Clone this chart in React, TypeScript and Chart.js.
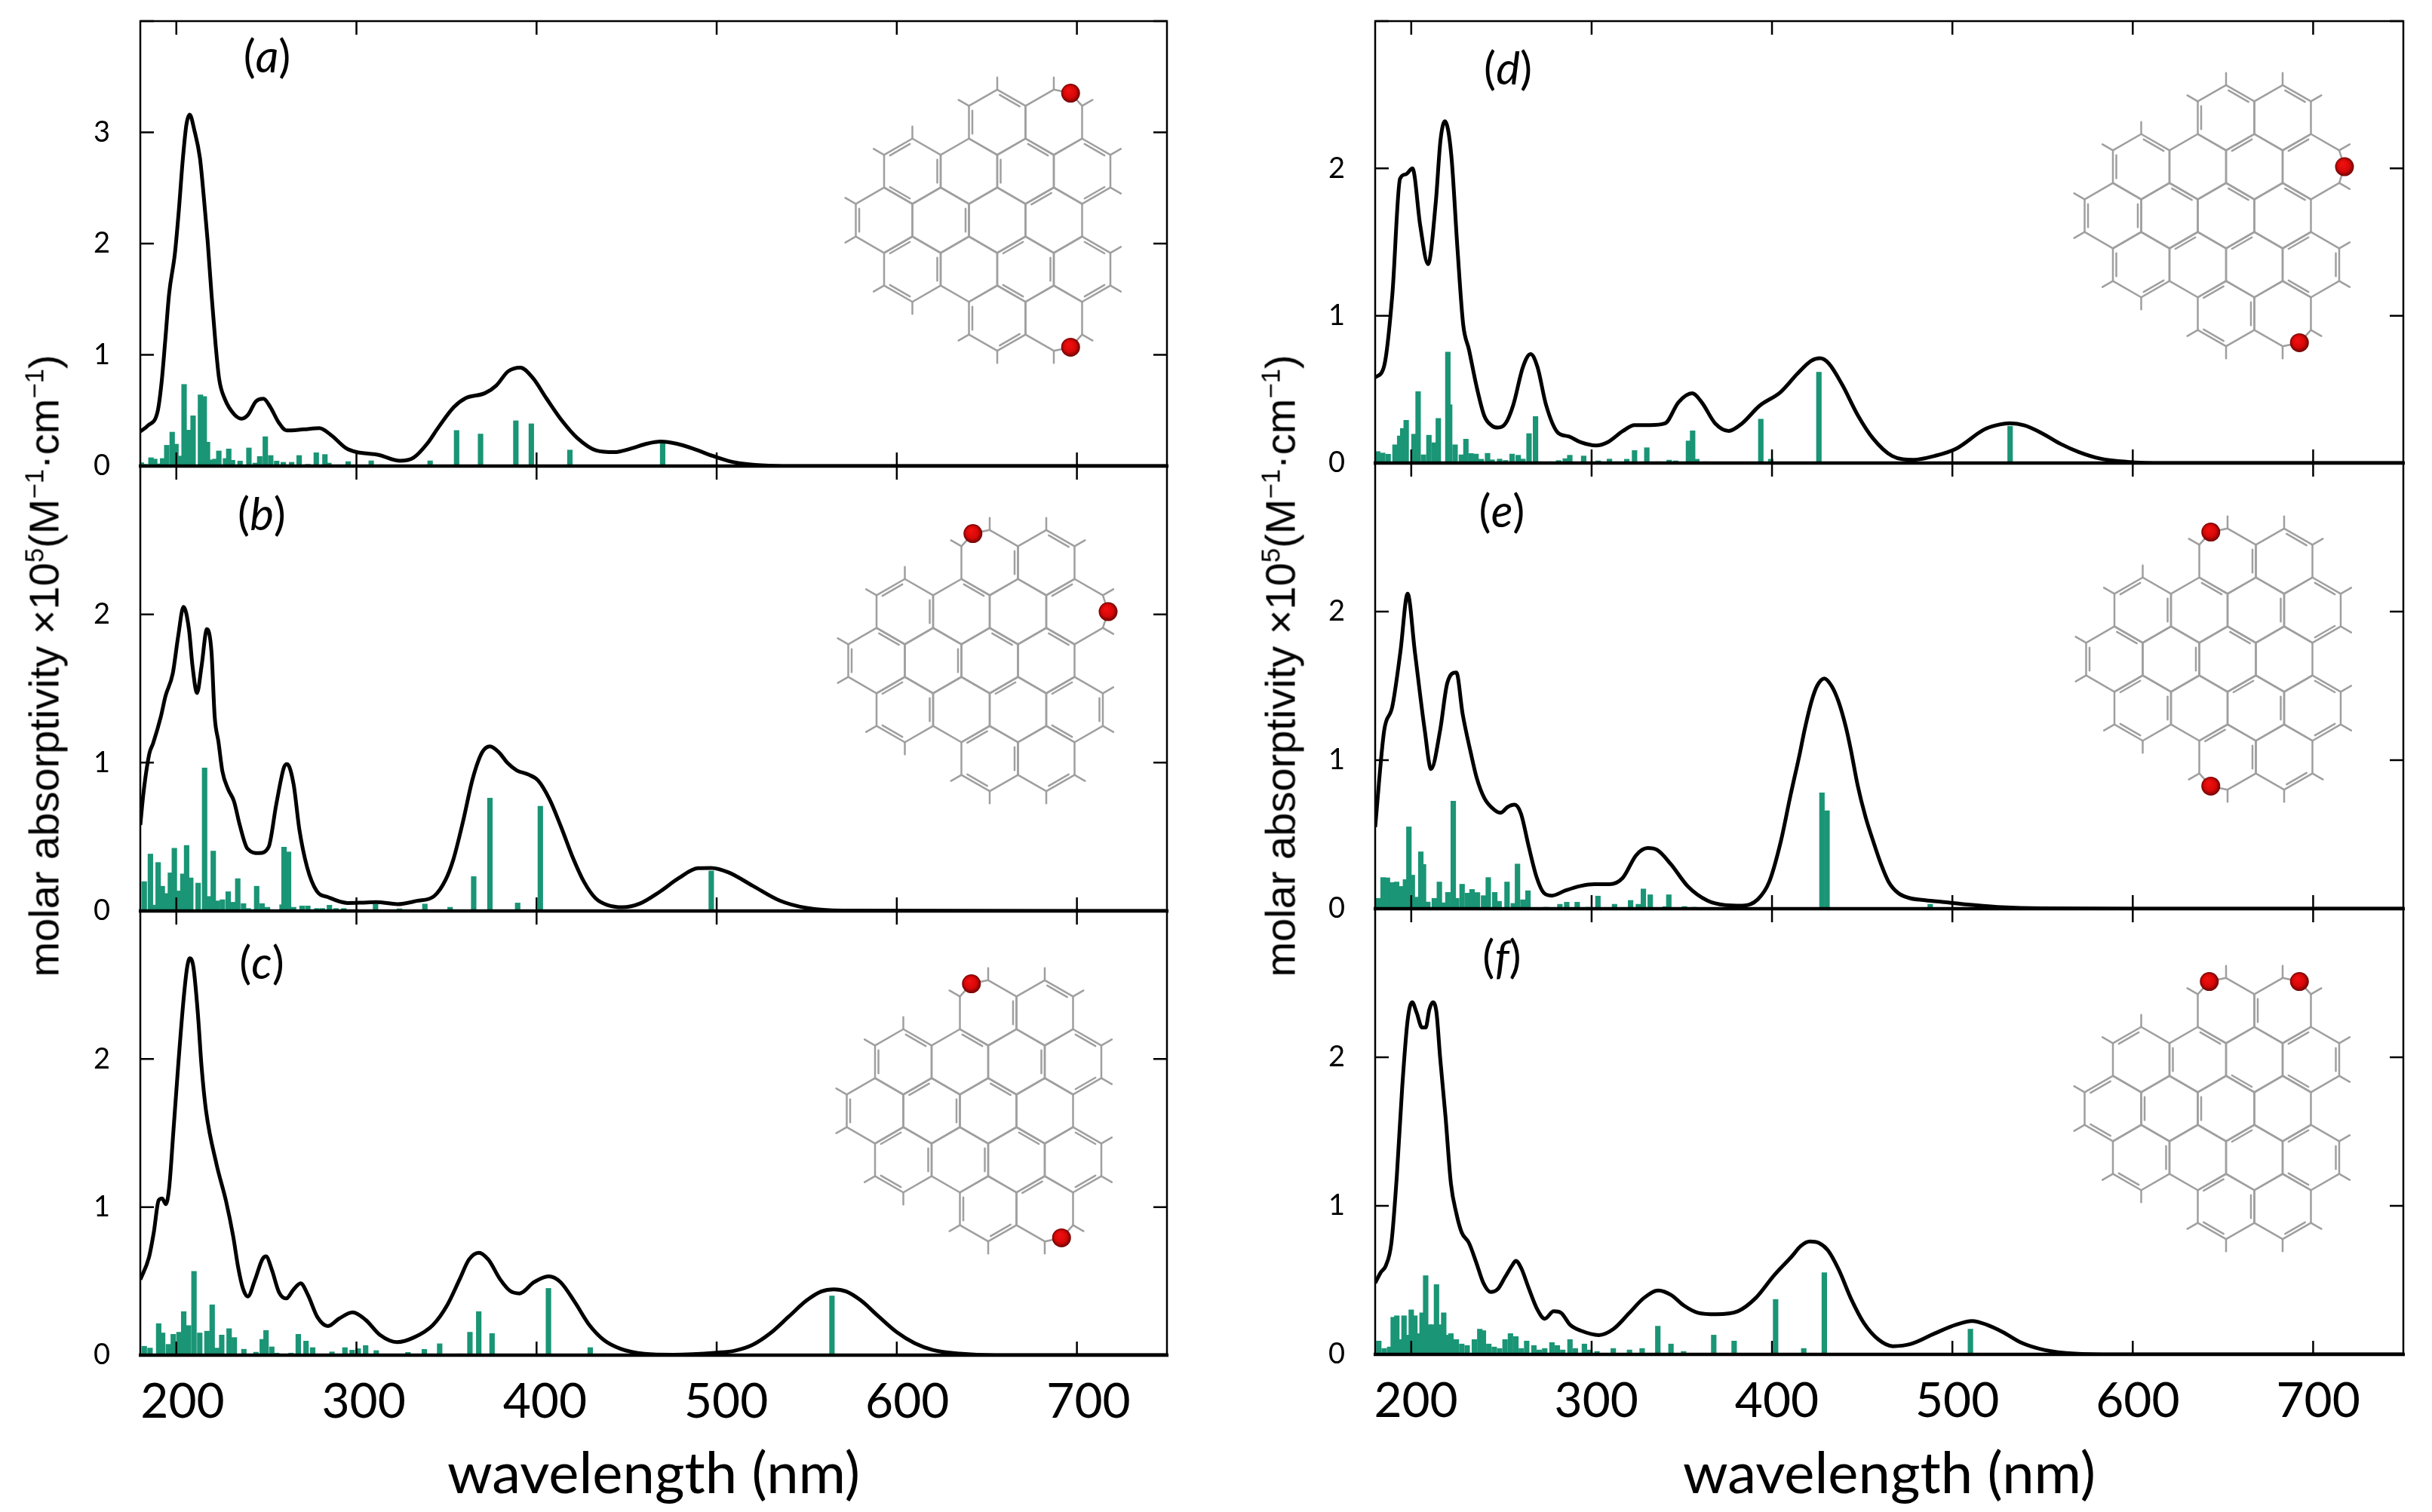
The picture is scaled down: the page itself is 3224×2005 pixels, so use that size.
import { useEffect, useRef } from "react";
import { Chart, registerables } from "chart.js";

Chart.register(...registerables);

const tickWavelengths = [200, 300, 400, 500, 600, 700];

// panel (a)
const curveAX = [180, 184.3, 189.6, 191.8, 193.9, 196, 199.2, 201.4, 203.5, 205.6, 207.4, 210, 213.1, 215.3, 217.4, 219.5, 221.7, 223.8, 227, 232.4, 236.2, 239.8, 244.1, 248.4, 252.2, 256.9, 261.2, 270.8, 279.4, 285.8, 294.3, 299.7, 312.3, 324.2, 331.7, 339.2, 345.6, 354.1, 360.6, 371.3, 377.7, 384.1, 391, 398, 405.4, 414, 422.5, 433.2, 443, 453, 461, 469, 478, 488, 498, 508, 518, 533, 553, 750];
const curveAY = [0.31, 0.365, 0.49, 0.75, 1.14, 1.55, 1.91, 2.3, 2.74, 3.07, 3.16, 3.02, 2.77, 2.41, 2.02, 1.55, 1.11, 0.78, 0.6, 0.46, 0.426, 0.46, 0.58, 0.605, 0.53, 0.39, 0.32, 0.33, 0.34, 0.28, 0.16, 0.127, 0.1, 0.047, 0.075, 0.2, 0.35, 0.53, 0.61, 0.655, 0.725, 0.85, 0.885, 0.79, 0.61, 0.41, 0.254, 0.14, 0.125, 0.16, 0.2, 0.22, 0.2, 0.15, 0.09, 0.04, 0.015, 0.002, 0, 0];
const barAX = [180.6, 182.5, 185.9, 188, 189.8, 192.4, 194.7, 197.7, 199.8, 201.9, 204.3, 206.8, 209.3, 213.4, 215.5, 217.3, 219.1, 221.5, 223.6, 227.3, 229.1, 231.2, 235.4, 240.3, 243.8, 246.3, 249.4, 252.4, 255.7, 259.4, 264, 268.2, 273, 277.7, 282.5, 284.7, 288.5, 295.4, 308.2, 313.5, 340.9, 355.6, 368.9, 388.5, 397.1, 418.5, 470];
const barAY = [0.03, 0.016, 0.075, 0.063, 0.02, 0.068, 0.187, 0.305, 0.197, 0.09, 0.734, 0.323, 0.452, 0.64, 0.625, 0.215, 0.056, 0.063, 0.136, 0.068, 0.154, 0.052, 0.045, 0.163, 0.027, 0.086, 0.264, 0.095, 0.045, 0.034, 0.034, 0.095, 0.016, 0.12, 0.104, 0.027, 0.011, 0.04, 0.047, 0.012, 0.047, 0.32, 0.288, 0.407, 0.38, 0.144, 0.22];

// panel (b)
const curveBX = [180, 181.8, 185, 187.1, 191.4, 194, 198, 201, 204, 207, 209, 211.5, 214, 217, 219.5, 221.3, 223.4, 225.6, 228.8, 232, 235.2, 239.5, 245.9, 251.2, 255.5, 259.8, 261.5, 265.1, 268.3, 272.6, 277.9, 284.3, 295, 302.5, 311, 322.8, 333.5, 343.1, 349.5, 353.8, 359.1, 364.5, 369.8, 374.1, 379.4, 383.7, 389, 395.4, 400.8, 407.2, 413.6, 420, 426.4, 432.8, 439.3, 447.8, 457.4, 468.1, 478.8, 489.5, 497, 506.6, 520, 535, 550, 570, 750];
const curveBY = [0.58, 0.8, 1.06, 1.13, 1.31, 1.45, 1.6, 1.85, 2.05, 1.9, 1.65, 1.47, 1.65, 1.9, 1.75, 1.31, 1.14, 0.94, 0.82, 0.74, 0.58, 0.42, 0.39, 0.43, 0.72, 0.97, 0.99, 0.855, 0.55, 0.296, 0.135, 0.093, 0.054, 0.056, 0.06, 0.046, 0.068, 0.1, 0.21, 0.347, 0.6, 0.89, 1.07, 1.11, 1.066, 1, 0.948, 0.92, 0.88, 0.753, 0.567, 0.364, 0.195, 0.085, 0.04, 0.025, 0.05, 0.127, 0.22, 0.288, 0.29, 0.26, 0.17, 0.07, 0.02, 0.002, 0];
const barBX = [182.2, 185.6, 187.5, 189.9, 192.2, 194.2, 196.7, 198.9, 201, 203.6, 205.7, 208, 212.1, 215.7, 218.1, 220.5, 222.8, 225.6, 228.8, 231.6, 234.1, 237.3, 239.9, 244.6, 247.6, 250.6, 258.7, 259.8, 262.3, 265.1, 269.8, 273, 278, 281.1, 285, 288.6, 293, 310.6, 323.9, 338, 352, 365.1, 374.1, 389.5, 402.1, 497];
const barBY = [0.198, 0.384, 0.04, 0.327, 0.167, 0.118, 0.257, 0.423, 0.135, 0.25, 0.442, 0.223, 0.188, 0.964, 0.098, 0.404, 0.068, 0.076, 0.13, 0.059, 0.218, 0.05, 0.017, 0.167, 0.05, 0.025, 0.042, 0.43, 0.398, 0.025, 0.034, 0.034, 0.017, 0.017, 0.039, 0.017, 0.017, 0.046, 0.015, 0.047, 0.025, 0.232, 0.761, 0.054, 0.706, 0.27];

// panel (c)
const curveCX = [180, 184.8, 187.5, 190.2, 192.1, 194.2, 196.1, 198.3, 201, 204, 206, 207.5, 209.5, 212, 214, 216.5, 222.3, 227.6, 231.6, 234.3, 237, 239.7, 243.7, 247.7, 249.8, 253, 257, 261, 265, 269, 273, 278.4, 284.2, 290.4, 297.9, 305.1, 313.1, 322.5, 331.8, 342.5, 350.5, 357.2, 362.5, 367.9, 373.2, 379.9, 385.3, 390.6, 398.6, 406.7, 413.3, 421.3, 429.3, 437.4, 446.7, 460, 476, 500, 510, 520, 530, 540, 550, 558, 565, 572, 580, 590, 600, 610, 620, 635, 655, 750];
const curveCY = [0.51, 0.66, 0.83, 1.046, 1.058, 1.02, 1.14, 1.5, 1.95, 2.4, 2.62, 2.68, 2.62, 2.3, 1.95, 1.65, 1.29, 1.04, 0.8, 0.595, 0.45, 0.396, 0.51, 0.646, 0.667, 0.578, 0.425, 0.383, 0.442, 0.485, 0.408, 0.255, 0.196, 0.247, 0.289, 0.238, 0.136, 0.088, 0.119, 0.204, 0.34, 0.51, 0.646, 0.692, 0.646, 0.51, 0.434, 0.417, 0.493, 0.532, 0.493, 0.357, 0.204, 0.102, 0.043, 0.009, 0.003, 0.017, 0.03, 0.07, 0.15, 0.26, 0.37, 0.43, 0.445, 0.43, 0.37, 0.26, 0.155, 0.08, 0.035, 0.01, 0, 0];
const barCX = [182.2, 185.4, 190.2, 192.4, 195.6, 198.3, 201.5, 204.1, 206.8, 209.8, 213, 217, 219.9, 222.5, 225.2, 229.3, 232.2, 237.5, 244.2, 247.7, 249.8, 253, 255.7, 263.7, 267.7, 272, 275.7, 286.4, 293.6, 297.6, 301, 305.1, 311, 328.6, 337.7, 346.2, 357.3, 363, 367.9, 375.3, 406.6, 429.8, 564];
const barCY = [0.06, 0.048, 0.213, 0.15, 0.073, 0.141, 0.155, 0.294, 0.2, 0.566, 0.15, 0.162, 0.34, 0.048, 0.136, 0.179, 0.119, 0.04, 0.02, 0.107, 0.167, 0.056, 0.014, 0.014, 0.141, 0.095, 0.051, 0.022, 0.051, 0.034, 0.044, 0.065, 0.031, 0.019, 0.039, 0.077, 0.009, 0.155, 0.294, 0.146, 0.451, 0.051, 0.4];

// panel (d)
const curveDX = [180, 185, 189.5, 193.8, 197, 200.7, 205, 209.3, 213.6, 216.2, 218.7, 222.2, 225.6, 228.8, 232, 236.3, 240.5, 244.8, 248, 252.3, 256.6, 261.9, 266.2, 270, 274.7, 281.1, 287.5, 293.9, 302.4, 308.8, 317.4, 323.8, 332.3, 340.7, 348.2, 355.7, 361, 368.5, 376, 383.4, 393, 404.7, 414.3, 421.8, 426.5, 431.4, 438.9, 447.4, 456, 466.6, 478.4, 490.1, 502.3, 517.4, 524, 532, 540, 550, 560, 570, 582, 597, 617, 750];
const curveDY = [0.58, 0.66, 1.14, 1.93, 1.96, 2, 1.61, 1.35, 1.77, 2.19, 2.32, 2.09, 1.46, 0.94, 0.77, 0.515, 0.32, 0.252, 0.24, 0.269, 0.396, 0.651, 0.74, 0.651, 0.396, 0.209, 0.18, 0.141, 0.119, 0.141, 0.218, 0.257, 0.257, 0.269, 0.413, 0.473, 0.413, 0.269, 0.218, 0.269, 0.388, 0.481, 0.609, 0.694, 0.711, 0.677, 0.532, 0.328, 0.167, 0.048, 0.022, 0.048, 0.099, 0.226, 0.255, 0.27, 0.255, 0.2, 0.13, 0.075, 0.03, 0.008, 0, 0];
const barDX = [181.4, 184.2, 187.2, 191, 193.6, 195.3, 197.2, 201.5, 203.8, 206.8, 209.8, 212.8, 215, 220.3, 221.3, 224.3, 227.8, 230.3, 233.1, 235.9, 238.8, 242.3, 244.8, 249, 252.3, 255.9, 259.3, 261.9, 265.3, 268.9, 271.3, 276.8, 281.7, 285.4, 287.9, 295.6, 303.7, 309.9, 314.2, 319.5, 323.8, 330.6, 337, 343, 346.6, 353.7, 356, 358.3, 363.3, 393.8, 399.3, 426, 512, 532];
const barDY = [0.078, 0.068, 0.06, 0.124, 0.184, 0.235, 0.29, 0.196, 0.485, 0.056, 0.189, 0.138, 0.303, 0.753, 0.396, 0.124, 0.056, 0.162, 0.065, 0.061, 0.026, 0.066, 0.022, 0.027, 0.018, 0.061, 0.053, 0.027, 0.2, 0.316, 0.009, 0.009, 0.017, 0.03, 0.053, 0.048, 0.015, 0.027, 0.009, 0.026, 0.085, 0.104, 0.009, 0.02, 0.015, 0.15, 0.219, 0.026, 0.009, 0.298, 0.026, 0.617, 0.008, 0.25];

// panel (e)
const curveEX = [180, 185, 189.5, 194, 198, 202, 207.5, 211, 216, 220, 225, 228.5, 233, 236.3, 240.6, 245.9, 249.5, 253.4, 257.2, 260.8, 265.1, 269.4, 273.6, 277.9, 285.4, 293.9, 301.4, 309.9, 317.2, 324.7, 331.1, 336.4, 343.9, 353.5, 364.2, 374, 383.5, 392.1, 398.5, 404.9, 410.2, 415.5, 418, 422, 425, 429, 433, 437, 441, 443.7, 447.5, 451.8, 456.1, 460.4, 464.6, 470, 476.4, 483.8, 494.5, 507.3, 525, 550, 600, 750];
const curveEY = [0.55, 1.2, 1.36, 1.73, 2.12, 1.73, 1.2, 0.94, 1.2, 1.52, 1.59, 1.31, 1.05, 0.88, 0.743, 0.667, 0.646, 0.684, 0.7, 0.641, 0.42, 0.216, 0.105, 0.088, 0.122, 0.153, 0.165, 0.165, 0.207, 0.36, 0.408, 0.395, 0.3, 0.148, 0.054, 0.024, 0.02, 0.063, 0.182, 0.454, 0.76, 1.05, 1.2, 1.4, 1.5, 1.55, 1.5, 1.39, 1.22, 1.07, 0.83, 0.62, 0.454, 0.301, 0.182, 0.105, 0.071, 0.058, 0.046, 0.029, 0.012, 0.002, 0, 0];
const barEX = [181.9, 184.4, 186.8, 189.3, 191.9, 194.7, 196.8, 198.7, 200.6, 202.8, 205.3, 206.8, 209.2, 212.8, 215.6, 218, 220.3, 223.3, 225.2, 228.2, 231.2, 233.7, 236.7, 240.1, 242.7, 246.3, 248.7, 253.1, 256.6, 258.9, 261.9, 264.7, 274.7, 282.4, 286.2, 292, 298.2, 303.5, 312.7, 321.6, 325.9, 328.7, 332.5, 340.8, 342.8, 351.5, 356.9, 427.7, 430.5, 487.7];
const barEY = [0.07, 0.21, 0.208, 0.176, 0.18, 0.15, 0.196, 0.551, 0.226, 0.078, 0.383, 0.298, 0.045, 0.07, 0.18, 0.04, 0.11, 0.724, 0.07, 0.165, 0.105, 0.13, 0.109, 0.088, 0.21, 0.11, 0.05, 0.18, 0.036, 0.301, 0.06, 0.121, 0.01, 0.03, 0.044, 0.044, 0.01, 0.085, 0.03, 0.056, 0.03, 0.133, 0.094, 0.014, 0.094, 0.015, 0.01, 0.78, 0.66, 0.03];

// panel (f)
const curveFX = [180, 183, 186, 189, 192, 195, 198, 200.5, 203, 206, 208, 210, 212, 214, 216, 219, 222, 225, 228, 232, 236, 240, 244, 248, 252, 256, 258, 261, 265, 270, 274, 279, 283, 288, 294, 304, 312, 321, 329, 337, 344, 351, 359, 369, 381, 391, 401, 411, 416, 421, 426, 431, 437, 444, 451, 459, 467, 477, 490, 502, 511, 519, 528, 538, 551, 568, 590, 750];
const curveFY = [0.48, 0.55, 0.6, 0.75, 1.2, 1.8, 2.25, 2.37, 2.3, 2.2, 2.2, 2.32, 2.37, 2.3, 2, 1.6, 1.15, 0.95, 0.82, 0.75, 0.62, 0.48, 0.42, 0.44, 0.52, 0.6, 0.63, 0.58, 0.45, 0.3, 0.24, 0.29, 0.28, 0.2, 0.16, 0.13, 0.17, 0.28, 0.38, 0.43, 0.4, 0.33, 0.28, 0.27, 0.29, 0.38, 0.53, 0.66, 0.73, 0.76, 0.75, 0.7, 0.57, 0.37, 0.21, 0.1, 0.055, 0.07, 0.14, 0.2, 0.225, 0.2, 0.15, 0.08, 0.03, 0.005, 0, 0];
const barFX = [182, 185, 188, 190, 192, 194, 196, 198, 200, 202, 204, 206, 208, 210, 212, 214, 216, 218, 220, 222, 225, 228, 231, 235, 238, 240, 243, 246, 249, 252, 255, 258, 261, 264, 268, 271, 274, 278, 281, 284, 288, 291, 296, 299, 303, 312, 321, 328, 336.7, 344, 351, 367.7, 379, 402, 417.6, 429, 510];
const barFY = [0.09, 0.04, 0.05, 0.25, 0.26, 0.1, 0.26, 0.13, 0.3, 0.26, 0.14, 0.28, 0.53, 0.2, 0.2, 0.47, 0.2, 0.28, 0.13, 0.14, 0.1, 0.07, 0.06, 0.1, 0.17, 0.16, 0.07, 0.05, 0.04, 0.1, 0.14, 0.12, 0.04, 0.09, 0.06, 0.03, 0.04, 0.08, 0.06, 0.03, 0.1, 0.04, 0.07, 0.03, 0.02, 0.04, 0.03, 0.04, 0.19, 0.07, 0.02, 0.13, 0.09, 0.37, 0.04, 0.55, 0.17];

// hexagons of the flake: [column in half widths, row]
const rings = [
  [0, -2], [2, -2],
  [-3, -1], [-1, -1], [1, -1], [3, -1],
  [-4, 0], [-2, 0], [0, 0], [2, 0],
  [-3, 1], [-1, 1], [1, 1], [3, 1],
  [0, 2], [2, 2],
];

// double bonds: [column, row, edge], edge 0 = top right, going clockwise
const bondsA = [[0, -2, 0], [0, -2, 4], [-3, -1, 5], [-3, -1, 1], [-3, -1, 3], [1, -1, 4], [1, -1, 0], [2, 0, 5], [3, -1, 0], [3, -1, 2], [-4, 0, 4], [-3, 1, 5], [-2, 0, 1], [-3, 1, 1], [-3, 1, 3], [1, 1, 5], [1, 1, 1], [1, 1, 3], [3, 1, 0], [3, 1, 2], [0, 2, 4], [0, 2, 2]];
const bondsB = [[0, -2, 1], [2, -2, 0], [3, -1, 5], [-3, -1, 5], [-3, -1, 1], [-1, -1, 0], [-4, 0, 0], [-4, 0, 4], [-3, 1, 5], [-3, 1, 1], [-3, 1, 3], [-2, 0, 1], [0, 0, 0], [2, 0, 0], [1, 1, 5], [3, 1, 5], [3, 1, 1], [3, 1, 3], [0, 2, 5], [0, 2, 1], [0, 2, 3], [2, 2, 2]];
const bondsC = [[2, -2, 0], [0, -2, 1], [-1, -1, 0], [-3, -1, 0], [-3, -1, 4], [1, -1, 1], [3, -1, 0], [3, -1, 2], [-2, 0, 5], [-2, 0, 1], [0, 0, 0], [-4, 0, 4], [-3, 1, 5], [-3, 1, 1], [-3, 1, 3], [-1, 1, 1], [1, 1, 0], [3, 1, 0], [3, 1, 2], [2, 2, 5], [0, 2, 4], [0, 2, 2]];
const bondsD = [[0, -2, 4], [0, -2, 0], [2, -2, 0], [-3, -1, 0], [-3, -1, 4], [1, -1, 5], [3, -1, 5], [-2, 0, 0], [0, 0, 0], [2, 0, 0], [-4, 0, 4], [-4, 0, 1], [-1, 1, 5], [1, 1, 5], [3, 1, 5], [3, 1, 1], [3, 1, 3], [-3, 1, 4], [-3, 1, 2], [0, 2, 5], [0, 2, 1], [0, 2, 3]];
const bondsE = [[2, -2, 0], [0, -2, 1], [-1, -1, 0], [-3, -1, 5], [-3, -1, 1], [-4, 0, 0], [-4, 0, 4], [-3, 1, 5], [1, -1, 1], [3, -1, 0], [3, -1, 2], [0, 0, 0], [-2, 0, 1], [-3, 1, 1], [-3, 1, 3], [1, 1, 5], [1, 1, 1], [3, 1, 0], [3, 1, 2], [0, 2, 5], [0, 2, 1], [2, 2, 2]];
const bondsF = [[2, -2, 4], [-1, -1, 0], [-3, -1, 5], [-1, -1, 4], [3, -1, 5], [3, -1, 1], [3, -1, 3], [-4, 0, 5], [-4, 0, 3], [-2, 0, 4], [0, 0, 4], [1, -1, 3], [-3, 1, 1], [-3, 1, 3], [1, 1, 5], [3, 1, 5], [3, 1, 1], [3, 1, 3], [0, 2, 5], [0, 2, 1], [0, 2, 3], [2, 2, 2]];

// opened edges carrying the oxygen: [column, row, edge]
const oxygensA = [[2, -2, 0], [2, 2, 2]];
const oxygensB = [[0, -2, 5], [3, -1, 1]];
const oxygensC = [[0, -2, 5], [2, 2, 2]];
const oxygensD = [[3, -1, 1], [2, 2, 2]];
const oxygensE = [[0, -2, 5], [0, 2, 3]];
const oxygensF = [[0, -2, 5], [2, -2, 0]];

const toPoints = (xs: number[], ys: number[]) => xs.map((x, i) => ({ x, y: ys[i] }));

const hexSide = 43.3;
const hexWidth = hexSide * Math.sqrt(3);

const drawMolecule = (ctx: CanvasRenderingContext2D, cx: number, cy: number, bonds: number[][], oxygens: number[][]) => {
  const center = (c: number, r: number) => [cx + (c * hexWidth) / 2, cy + r * 1.5 * hexSide];
  const vertex = (c: number, r: number, v: number) => {
    const [x, y] = center(c, r);
    const a = ((-90 + v * 60) * Math.PI) / 180;
    return [x + hexSide * Math.cos(a), y + hexSide * Math.sin(a)];
  };
  const key = (p: number[]) => `${Math.round(p[0] / 4)},${Math.round(p[1] / 4)}`;
  const isOpen = (c: number, r: number, e: number) => oxygens.some(o => o[0] === c && o[1] === r && o[2] === e);

  const useCount: Record<string, number> = {};
  rings.forEach(([c, r]) => {
    for (let v = 0; v < 6; v++) {
      const k = key(vertex(c, r, v));
      useCount[k] = (useCount[k] || 0) + 1;
    }
  });

  ctx.save();
  ctx.strokeStyle = "#9f9f9f";
  ctx.lineWidth = 2.5;
  ctx.lineCap = "round";
  const line = (a: number[], b: number[]) => {
    ctx.beginPath();
    ctx.moveTo(a[0], a[1]);
    ctx.lineTo(b[0], b[1]);
    ctx.stroke();
  };

  rings.forEach(([c, r]) => {
    const [mx, my] = center(c, r);
    for (let e = 0; e < 6; e++) {
      const a = vertex(c, r, e);
      const b = vertex(c, r, (e + 1) % 6);
      if (!isOpen(c, r, e)) line(a, b);
      // hydrogen stub on outer carbons
      if (useCount[key(a)] === 1) {
        const d = Math.hypot(a[0] - mx, a[1] - my);
        line(a, [a[0] + ((a[0] - mx) / d) * 16, a[1] + ((a[1] - my) / d) * 16]);
      }
    }
  });

  bonds.forEach(([c, r, e]) => {
    const [mx, my] = center(c, r);
    const a = vertex(c, r, e);
    const b = vertex(c, r, (e + 1) % 6);
    const inner = (p: number[], q: number[]) => {
      const sx = p[0] + (q[0] - p[0]) * 0.1;
      const sy = p[1] + (q[1] - p[1]) * 0.1;
      return [sx + (mx - sx) * 0.12, sy + (my - sy) * 0.12];
    };
    line(inner(a, b), inner(b, a));
  });

  oxygens.forEach(([c, r, e]) => {
    const [mx, my] = center(c, r);
    const a = vertex(c, r, e);
    const b = vertex(c, r, (e + 1) % 6);
    const ox = (a[0] + b[0]) / 2;
    const oy = (a[1] + b[1]) / 2;
    const d = Math.hypot(ox - mx, oy - my);
    const px = ox + ((ox - mx) / d) * 7;
    const py = oy + ((oy - my) / d) * 7;
    line(a, [px, py]);
    line(b, [px, py]);
    const g = ctx.createRadialGradient(px - 3, py - 4, 1, px, py, 12.5);
    g.addColorStop(0, "#f01010");
    g.addColorStop(0.6, "#d80808");
    g.addColorStop(1, "#6e0404");
    ctx.fillStyle = g;
    ctx.beginPath();
    ctx.arc(px, py, 12.5, 0, Math.PI * 2);
    ctx.fill();
  });
  ctx.restore();
};

const framePlugin = {
  id: "frame",
  afterDatasetsDraw(chart: any, _args: any, opts: any) {
    const { ctx, chartArea: area, scales } = chart;
    ctx.save();
    ctx.strokeStyle = "#000";
    ctx.lineWidth = 2.5;
    ctx.strokeRect(area.left, area.top, area.right - area.left, area.bottom - area.top);
    ctx.beginPath();
    tickWavelengths.forEach(v => {
      const x = scales.x.getPixelForValue(v);
      ctx.moveTo(x, area.top);
      ctx.lineTo(x, area.top + 18);
      ctx.moveTo(x, area.bottom);
      ctx.lineTo(x, area.bottom - 18);
    });
    scales.y.ticks.forEach((t: any) => {
      const y = scales.y.getPixelForValue(t.value);
      ctx.moveTo(area.left, y);
      ctx.lineTo(area.left + 18, y);
      ctx.moveTo(area.right, y);
      ctx.lineTo(area.right - 18, y);
    });
    ctx.stroke();
    ctx.lineWidth = 4.5;
    ctx.beginPath();
    ctx.moveTo(area.left - 2, area.bottom);
    ctx.lineTo(area.right + 2, area.bottom);
    ctx.stroke();
    ctx.restore();
    drawMolecule(ctx, area.left + opts.inset[0], area.top + opts.inset[1], opts.bonds, opts.oxygens);
  },
};

const fixedBox = (size: { width?: number; height?: number }) => (s: any) => {
  if (size.width !== undefined) s.width = size.width;
  if (size.height !== undefined) s.height = size.height;
  s.paddingLeft = 0;
  s.paddingRight = 0;
  s.paddingTop = 0;
  s.paddingBottom = 0;
};

const padTop = 10;
const padRight = 12;
const padBottom = 12;

type PanelProps = {
  left: number;
  right: number;
  top: number;
  bottom: number;
  yMax: number;
  curveX: number[];
  curveY: number[];
  barX: number[];
  barY: number[];
  bonds: number[][];
  oxygens: number[][];
  inset: number[];
  labelAxis?: number[];
};

const Panel = ({ left, right, top, bottom, yMax, curveX, curveY, barX, barY, bonds, oxygens, inset, labelAxis }: PanelProps) => {
  const canvasRef = useRef<HTMLCanvasElement | null>(null);
  const boxBottom = labelAxis ? 2005 - bottom : padBottom;
  const canvasLeft = left - 186;
  const width = right - canvasLeft + padRight;
  const height = bottom - top + padTop + boxBottom;

  useEffect(() => {
    if (!canvasRef.current) return;
    const scales: any = {
      x: {
        type: "linear",
        min: 180,
        max: 750,
        offset: false,
        grid: { display: false, drawTicks: false },
        border: { display: false },
        ticks: { display: false, stepSize: 100, includeBounds: false },
        afterFit: fixedBox({ height: labelAxis ? 0 : boxBottom }),
      },
      y: {
        min: 0,
        max: yMax,
        grid: { display: false, drawTicks: false },
        border: { display: false },
        ticks: {
          stepSize: 1,
          padding: 40,
          color: "#000",
          font: { family: "Lato", size: 38 },
          callback: (v: number) => (v < yMax ? String(v) : ""),
        },
        afterFit: fixedBox({ width: 186 }),
      },
    };
    if (labelAxis) {
      scales.xt = {
        type: "linear",
        position: "bottom",
        min: labelAxis[0],
        max: labelAxis[1],
        offset: false,
        grid: { display: false, drawTicks: false },
        border: { display: false },
        ticks: {
          stepSize: 100,
          includeBounds: false,
          padding: 24,
          maxRotation: 0,
          autoSkip: false,
          color: "#000",
          font: { family: "Lato", size: 64 },
          callback: (v: number) => (v <= 700 ? String(v) : ""),
        },
        title: {
          display: true,
          text: "wavelength (nm)",
          color: "#000",
          font: { family: "Lato", size: 76 },
          padding: { top: 0, bottom: 4 },
        },
        afterFit: fixedBox({ height: boxBottom }),
      };
    }
    const chart = new Chart(canvasRef.current, {
      type: "line",
      data: {
        datasets: [
          {
            type: "line",
            data: toPoints(curveX, curveY),
            borderColor: "#000",
            borderWidth: 5,
            pointRadius: 0,
            cubicInterpolationMode: "monotone",
            order: 1,
          },
          {
            type: "bar",
            data: toPoints(barX, barY),
            backgroundColor: "#1a9575",
            barThickness: 6.5,
            order: 2,
          },
        ],
      } as any,
      options: {
        animation: false,
        responsive: false,
        devicePixelRatio: 1,
        layout: { padding: { top: padTop, right: padRight, left: 0, bottom: 0 } },
        plugins: {
          legend: { display: false },
          tooltip: { enabled: false },
          frame: { inset, bonds, oxygens },
        } as any,
        scales,
      },
      plugins: [framePlugin],
    });
    return () => {
      chart.destroy();
    };
  }, []);

  return (
    <canvas
      ref={canvasRef}
      width={width}
      height={height}
      style={{ position: "absolute", left: canvasLeft, top: top - padTop, width, height }}
    />
  );
};

const PanelLabel = ({ x, y, letter }: { x: number; y: number; letter: string }) => (
  <div style={{ position: "absolute", left: x, top: y, transform: "translate(-50%,-50%)", font: "60px Lato", color: "#000" }}>
    (<i>{letter}</i>)
  </div>
);

const YTitle = ({ x, y }: { x: number; y: number }) => (
  <div
    style={{
      position: "absolute",
      left: x,
      top: y,
      transform: "translate(-50%,-50%) rotate(-90deg)",
      font: "56px 'Liberation Sans'",
      whiteSpace: "nowrap",
      color: "#000",
    }}
  >
    molar absorptivity ×10<sup style={{ fontSize: "0.62em", lineHeight: 0 }}>5</sup>(M
    <sup style={{ fontSize: "0.62em", lineHeight: 0 }}>−1</sup>·cm
    <sup style={{ fontSize: "0.62em", lineHeight: 0 }}>−1</sup>)
  </div>
);

const App = () => {
  return (
    <div style={{ position: "absolute", left: 0, top: 0, width: 3224, height: 2005, background: "#fff", overflow: "hidden" }}>
      <Panel left={186} right={1547} top={28} bottom={618} yMax={4} curveX={curveAX} curveY={curveAY} barX={barAX} barY={barAY} bonds={bondsA} oxygens={oxygensA} inset={[1136, 264]} />
      <Panel left={186} right={1547} top={618} bottom={1208} yMax={3} curveX={curveBX} curveY={curveBY} barX={barBX} barY={barBY} bonds={bondsB} oxygens={oxygensB} inset={[1126, 258]} />
      <Panel left={186} right={1547} top={1208} bottom={1797} yMax={3} curveX={curveCX} curveY={curveCY} barX={barCX} barY={barCY} bonds={bondsC} oxygens={oxygensC} inset={[1124, 265]} labelAxis={[176.7, 743.3]} />
      <Panel left={1823} right={3186} top={28} bottom={614} yMax={3} curveX={curveDX} curveY={curveDY} barX={barDX} barY={barDY} bonds={bondsD} oxygens={oxygensD} inset={[1128, 258]} />
      <Panel left={1823} right={3186} top={614} bottom={1205} yMax={3} curveX={curveEX} curveY={curveEY} barX={barEX} barY={barEY} bonds={bondsE} oxygens={oxygensE} inset={[1130, 260]} />
      <Panel left={1823} right={3186} top={1205} bottom={1796} yMax={3} curveX={curveFX} curveY={curveFY} barX={barFX} barY={barFY} bonds={bondsF} oxygens={oxygensF} inset={[1128, 265]} labelAxis={[177.4, 747.2]} />
      <PanelLabel x={354} y={73} letter="a" />
      <PanelLabel x={347} y={680} letter="b" />
      <PanelLabel x={347} y={1275} letter="c" />
      <PanelLabel x={1999} y={89} letter="d" />
      <PanelLabel x={1991} y={676} letter="e" />
      <PanelLabel x={1991} y={1267} letter="f" />
      <YTitle x={58} y={883} />
      <YTitle x={1697} y={883} />
    </div>
  );
};

export default App;
